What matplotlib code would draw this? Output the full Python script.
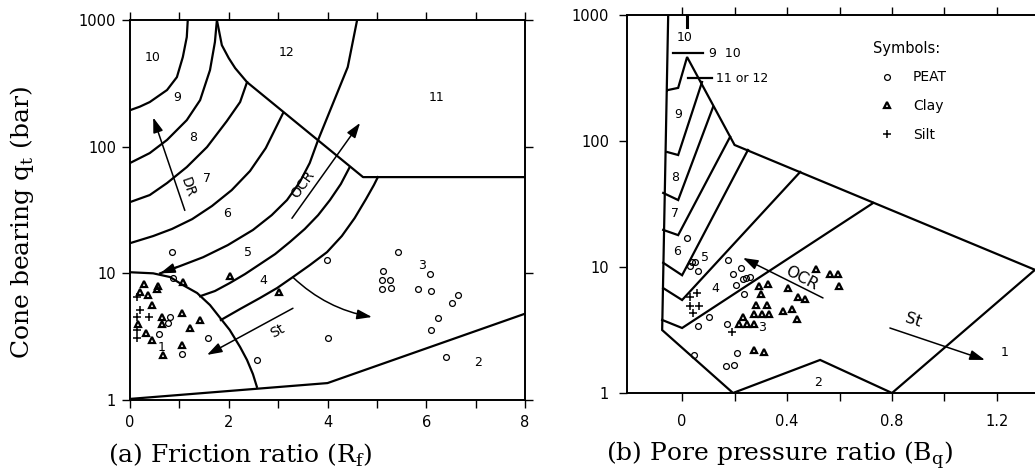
import matplotlib.pyplot as plt
from matplotlib.ticker import FixedLocator, NullLocator

plt.rcParams['font.family'] = 'DejaVu Sans'
plt.rcParams['mathtext.fontset'] = 'custom'
plt.rcParams['mathtext.rm'] = 'DejaVu Serif'

### panel (a): friction ratio chart ###
# zone boundaries, (Rf %, qt bar)
bottom_rf = [0.0, 4.0, 8.0]
bottom_qt = [1.02, 1.36, 4.8]
zone1_rf = [0.0, 0.47, 0.81, 1.07, 1.36, 1.62, 1.86, 2.02, 2.23, 2.37, 2.49, 2.57]
zone1_qt = [10.2, 10.0, 9.35, 8.09, 6.99, 5.62, 4.28, 3.57, 2.62, 2.07, 1.60, 1.27]
arc_3_4_rf = [1.84, 2.23, 2.63, 2.98, 3.30, 3.64, 3.99, 4.29, 4.55, 4.78, 4.94, 5.02]
arc_3_4_qt = [4.28, 5.23, 6.38, 7.66, 9.35, 11.6, 14.7, 19.7, 27.3, 38.6, 49.8, 57.5]
arc_4_5_rf = [1.42, 1.72, 2.02, 2.33, 2.63, 2.94, 3.24, 3.54, 3.81, 4.05, 4.27, 4.45]
arc_4_5_qt = [6.6, 7.25, 8.38, 9.87, 11.8, 14.2, 17.7, 22.4, 28.8, 37.9, 50.7, 69.0]
arc_5_6_rf = [0.61, 1.01, 1.48, 1.98, 2.49, 2.87, 3.18, 3.44, 3.64, 3.81, 4.41, 4.60]
arc_5_6_qt = [10.0, 11.4, 13.4, 16.7, 22.0, 28.8, 37.9, 52.6, 74.3, 113, 425, 1000]
arc_6_7_rf = [0.0, 0.47, 0.85, 1.26, 1.66, 2.06, 2.43, 2.75, 3.10]
arc_6_7_qt = [17.3, 19.7, 22.4, 26.8, 34.0, 45.4, 64.2, 97.5, 184]
arc_7_8_rf = [0.0, 0.40, 0.75, 1.15, 1.56, 1.96, 2.23, 2.37]
arc_7_8_qt = [36.5, 41.5, 51.6, 69.0, 99.3, 159, 225, 323]
arc_8_9_rf = [0.0, 0.40, 0.75, 1.15, 1.42, 1.62, 1.72, 1.76]
arc_8_9_qt = [74.3, 89.0, 113, 162, 233, 402, 670, 1000]
arc_9_10_rf = [0.0, 0.20, 0.40, 0.75, 0.95, 1.07, 1.15, 1.17]
arc_9_10_qt = [194, 207, 225, 280, 354, 510, 733, 1000]
upper_rf = [1.76, 1.86, 2.0, 2.13, 2.37, 4.72, 8.0]
upper_qt = [1000, 633, 500, 417, 323, 57.5, 57.5]

labels_a = ['1', '2', '3', '4', '5', '6', '7', '8', '9', '10', '11', '12']
labels_a_rf = [0.65, 7.05, 5.91, 2.69, 2.39, 1.96, 1.56, 1.27, 0.95, 0.45, 6.21, 3.17]
labels_a_qt = [2.62, 1.96, 11.6, 8.85, 14.7, 29.9, 56.5, 119, 246, 510, 246, 550]

# measured points
peat_a_rf = [0.85, 0.87, 0.81, 0.77, 0.59, 1.58, 1.05, 2.57, 3.99, 4.0, 5.43, 5.12,
             5.10, 5.26, 5.10, 5.28, 6.07, 5.83, 6.09, 6.64, 6.52, 6.23, 6.09, 6.40]
peat_a_qt = [14.7, 9.2, 4.5, 4.05, 3.3, 3.1, 2.3, 2.07, 12.7, 3.1, 14.7, 10.4,
             8.85, 8.85, 7.5, 7.6, 9.9, 7.5, 7.2, 6.7, 5.8, 4.4, 3.6, 2.2]
clay_a_rf = [0.28, 0.57, 0.20, 0.36, 0.55, 0.45, 0.16, 0.32, 0.45, 0.65, 0.65, 1.05,
             1.21, 1.42, 1.05, 0.67, 1.07, 2.02, 3.02]
clay_a_qt = [8.2, 7.9, 7.1, 6.7, 7.5, 5.6, 4.0, 3.4, 3.0, 4.5, 4.0, 4.9,
             3.7, 4.3, 2.7, 2.26, 8.5, 9.5, 7.1]
silt_a_rf = [0.14, 0.20, 0.14, 0.14, 0.14, 0.38]
silt_a_qt = [6.5, 5.1, 4.5, 3.6, 3.1, 4.5]

### panel (b): pore pressure ratio chart ###
outer_bq = [-0.053, -0.076, 0.194, 0.526, 0.80, 1.345, 0.20, 0.019, -0.015, -0.053]
outer_qt = [1000, 3.16, 1.0, 1.83, 1.0, 9.5, 93, 464, 264, 254]
line_8_9_bq = [-0.057, -0.015, 0.076]
line_8_9_qt = [81.8, 77.4, 294]
line_7_8_bq = [-0.072, -0.015, 0.118]
line_7_8_qt = [38.7, 34.0, 186]
line_6_7_bq = [-0.072, -0.015, 0.183]
line_6_7_qt = [19.7, 17.9, 108]
line_5_6_bq = [-0.072, 0.0, 0.251]
line_5_6_qt = [10.8, 8.6, 84.9]
line_4_5_bq = [-0.072, 0.0, 0.45]
line_4_5_qt = [6.8, 5.47, 56.8]
line_3_4_bq = [-0.076, 0.0, 0.728]
line_3_4_qt = [3.8, 3.28, 32.2]

labels_b = ['1', '2', '3', '4', '5', '6', '7', '8', '9', '10']
labels_b_bq = [1.23, 0.518, 0.305, 0.126, 0.088, -0.019, -0.027, -0.027, -0.015, 0.011]
labels_b_qt = [2.08, 1.22, 3.28, 6.8, 12.0, 13.2, 26.8, 50.9, 161, 657]

peat_b_bq = [0.019, 0.038, 0.050, 0.030, 0.061, 0.175, 0.194, 0.225, 0.206, 0.232,
             0.244, 0.259, 0.236, 0.103, 0.061, 0.171, 0.046, 0.210, 0.168, 0.198]
peat_b_qt = [17.0, 11.0, 11.0, 10.2, 9.3, 11.4, 8.8, 9.8, 7.2, 8.0,
             8.2, 8.3, 6.1, 4.0, 3.4, 3.5, 2.0, 2.08, 1.64, 1.67]
clay_b_bq = [0.293, 0.328, 0.301, 0.282, 0.324, 0.274, 0.305, 0.331, 0.232, 0.217,
             0.248, 0.274, 0.274, 0.312, 0.404, 0.442, 0.469, 0.385, 0.419, 0.438,
             0.510, 0.564, 0.594, 0.598]
clay_b_qt = [7.1, 7.3, 6.1, 5.0, 5.0, 4.2, 4.2, 4.2, 4.0, 3.5,
             3.5, 3.5, 2.2, 2.1, 6.8, 5.8, 5.6, 4.5, 4.6, 3.9,
             9.6, 8.8, 8.8, 7.1]
silt_b_bq = [0.057, 0.030, 0.030, 0.065, 0.042, 0.190]
silt_b_qt = [6.2, 5.8, 4.9, 4.9, 4.3, 3.05]


fig = plt.figure(figsize=(10.35, 4.74), dpi=100)
ax_a = fig.add_axes([130 / 1035, 74 / 474, 395 / 1035, 380 / 474])
ax_b = fig.add_axes([627 / 1035, 81 / 474, 408 / 1035, 378 / 474])

blw = 1.6
peat_kw = dict(ls='none', marker='o', ms=4.2, mfc='none', mec='k', mew=0.9)
clay_kw = dict(ls='none', marker='^', ms=4.2, mfc='none', mec='k', mew=1.6)
silt_kw = dict(ls='none', marker='+', ms=5.5, mec='k', mew=1.1)
arrow_kw = dict(arrowstyle='-|>,head_length=0.9,head_width=0.3', color='k', lw=1.1,
                shrinkA=0, shrinkB=0)

# --- panel a ---
ax = ax_a
ax.set_yscale('log')
for xs, ys in [(bottom_rf, bottom_qt), (zone1_rf, zone1_qt), (arc_3_4_rf, arc_3_4_qt),
               (arc_4_5_rf, arc_4_5_qt), (arc_5_6_rf, arc_5_6_qt), (arc_6_7_rf, arc_6_7_qt),
               (arc_7_8_rf, arc_7_8_qt), (arc_8_9_rf, arc_8_9_qt), (arc_9_10_rf, arc_9_10_qt),
               (upper_rf, upper_qt)]:
    ax.plot(xs, ys, color='k', lw=blw, solid_joinstyle='round')

ax.plot(peat_a_rf, peat_a_qt, **peat_kw)
ax.plot(clay_a_rf, clay_a_qt, **clay_kw)
ax.plot(silt_a_rf, silt_a_qt, **silt_kw)

for t, x, y in zip(labels_a, labels_a_rf, labels_a_qt):
    ax.text(x, y, t, fontsize=9, ha='center', va='center')

# arrows: DR, OCR, St and the zone 4 -> 3 one
ax.annotate('', xy=(0.47, 170), xytext=(1.11, 31.4), arrowprops=arrow_kw)
ax.text(1.17, 47.9, 'DR', rotation=-71, fontsize=10, ha='center', va='center')
ax.annotate('', xy=(4.66, 154), xytext=(3.28, 27.2), arrowprops=arrow_kw)
ax.text(3.50, 50, 'OCR', rotation=54, fontsize=10, ha='center', va='center')
ax.annotate('', xy=(1.56, 2.27), xytext=(3.3, 5.3), arrowprops=arrow_kw)
ax.text(2.98, 3.5, 'St', rotation=29, fontsize=10, ha='center', va='center')
ax.annotate('', xy=(4.9, 4.52), xytext=(3.3, 9.3),
            arrowprops=dict(arrow_kw, connectionstyle='arc3,rad=0.15'))
ax.annotate('', xy=(0.61, 10.0), xytext=(0.95, 11.2), arrowprops=arrow_kw)

ax.set_xlim(0, 8)
ax.set_ylim(1, 1000)
ax.xaxis.set_major_locator(FixedLocator([0, 2, 4, 6, 8]))
ax.xaxis.set_minor_locator(FixedLocator([1, 3, 5, 7]))
ax.yaxis.set_major_locator(FixedLocator([1, 10, 100, 1000]))
ax.yaxis.set_minor_locator(NullLocator())
ax.set_xticklabels(['0', '2', '4', '6', '8'])
ax.set_yticklabels(['1', '10', '100', '1000'])
ax.tick_params(which='both', direction='out', length=6, width=1.0,
               top=True, right=True, labelsize=10.5)
ax.tick_params(axis='x', pad=5)
ax.tick_params(axis='y', pad=4)
for s in ax.spines.values():
    s.set_linewidth(1.4)

# --- panel b ---
ax = ax_b
ax.set_yscale('log')
for xs, ys in [(outer_bq, outer_qt), (line_8_9_bq, line_8_9_qt), (line_7_8_bq, line_7_8_qt),
               (line_6_7_bq, line_6_7_qt), (line_5_6_bq, line_5_6_qt),
               (line_4_5_bq, line_4_5_qt), (line_3_4_bq, line_3_4_qt)]:
    ax.plot(xs, ys, color='k', lw=blw, solid_joinstyle='miter')

ax.plot(peat_b_bq, peat_b_qt, label='PEAT', **peat_kw)
ax.plot(clay_b_bq, clay_b_qt, label='Clay', **clay_kw)
ax.plot(silt_b_bq, silt_b_qt, label='Silt', **silt_kw)

for t, x, y in zip(labels_b, labels_b_bq, labels_b_qt):
    ax.text(x, y, t, fontsize=9, ha='center', va='center')

# short markers near the top
ax.plot([-0.034, 0.080], [499, 499], color='k', lw=blw)
ax.text(0.103, 499, '9  10', fontsize=9, ha='left', va='center')
ax.plot([0.023, 0.114], [316, 316], color='k', lw=blw)
ax.text(0.128, 316, '11 or 12', fontsize=9, ha='left', va='center')
ax.plot([0.019, 0.019], [1000, 800], color='k', lw=2.2)

ax.annotate('', xy=(0.232, 11.8), xytext=(0.537, 5.68), arrowprops=arrow_kw)
ax.text(0.455, 8.2, 'OCR', rotation=-28, fontsize=11.5, ha='center', va='center')
ax.annotate('', xy=(1.154, 1.83), xytext=(0.792, 3.28), arrowprops=arrow_kw)
ax.text(0.88, 3.75, 'St', rotation=-18, fontsize=11.5, ha='center', va='center')

ax.set_xlim(-0.21, 1.345)
ax.set_ylim(1, 1000)
ax.xaxis.set_major_locator(FixedLocator([0, 0.4, 0.8, 1.2]))
ax.xaxis.set_minor_locator(FixedLocator([0.2, 0.6, 1.0]))
ax.yaxis.set_major_locator(FixedLocator([1, 10, 100, 1000]))
ax.yaxis.set_minor_locator(NullLocator())
ax.set_xticklabels(['0', '0.4', '0.8', '1.2'])
ax.set_yticklabels(['1', '10', '100', '1000'])
ax.tick_params(which='both', direction='out', length=6, width=1.0,
               top=True, right=False, labelsize=10.5)
ax.tick_params(axis='x', pad=9)
ax.tick_params(axis='y', pad=7)
for s in ax.spines.values():
    s.set_linewidth(1.4)
ax.spines['right'].set_visible(False)

leg = ax.legend(loc='upper left', bbox_to_anchor=(0.585, 0.95), frameon=False,
                title='Symbols:', alignment='left', fontsize=10, title_fontsize=10.5,
                handlelength=2.0, handletextpad=0.9, labelspacing=1.05, borderpad=0)

# axis titles
fig.text(240 / 1035, 1 - 455 / 474, '(a) Friction ratio (R$_\\mathrm{f}$)',
         family='DejaVu Serif', fontsize=18, ha='center', va='center')
fig.text(780 / 1035, 1 - 455 / 474, '(b) Pore pressure ratio (B$_\\mathrm{q}$)',
         family='DejaVu Serif', fontsize=18, ha='center', va='center')
fig.text(22 / 1035, 1 - 222 / 474, 'Cone bearing q$_\\mathrm{t}$ (bar)',
         family='DejaVu Serif', fontsize=18, ha='center', va='center', rotation=90)

plt.savefig('out.png', dpi=100, facecolor='white')
